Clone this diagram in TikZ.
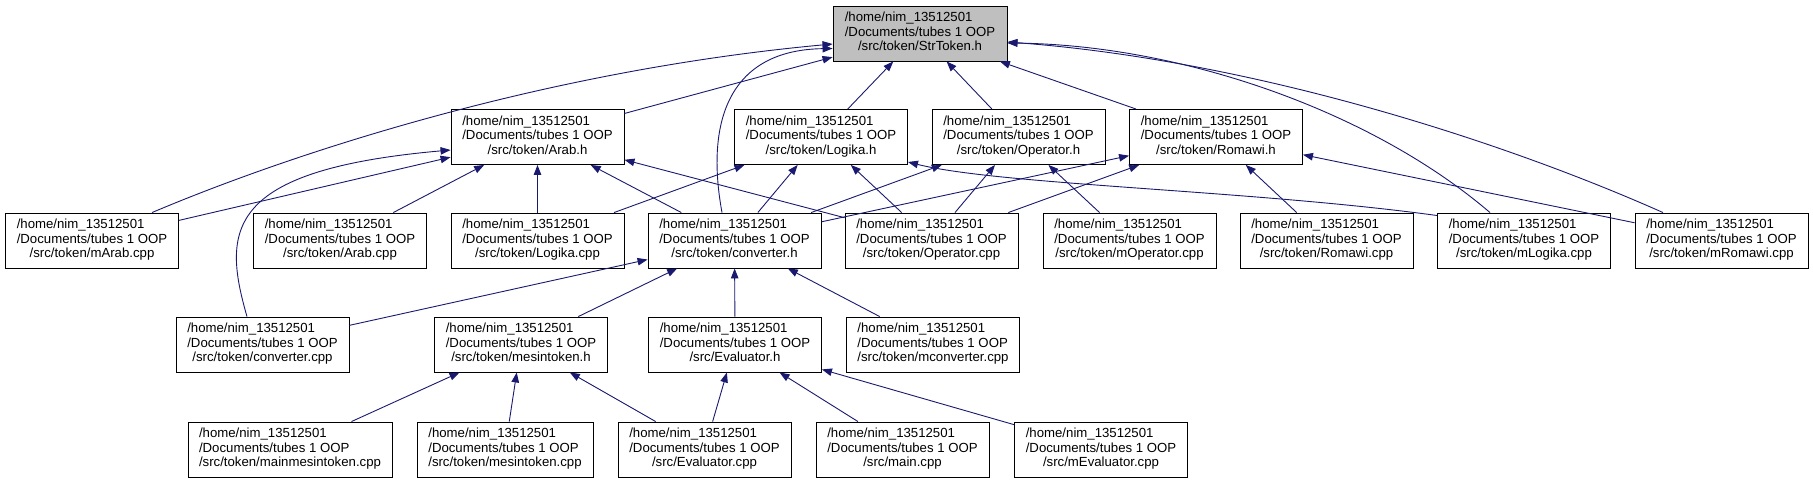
\documentclass[tikz,border=0pt]{standalone}
\usepackage{fontspec}
\setmainfont{Liberation Sans}
\usetikzlibrary{arrows.meta,calc}
\definecolor{edgeblue}{RGB}{25,25,112}
\definecolor{rootgray}{RGB}{191,191,191}
\newcommand{\flbl}[1]{\begin{tabular}{@{}l@{}}/home/nim\_13512501\\/Documents/tubes 1 OOP\\\multicolumn{1}{@{}c@{}}{#1}\end{tabular}}
\begin{document}
\begin{tikzpicture}[x=1pt,y=-1pt,
  filebox/.style={draw=black, line width=0.9pt, fill=white, minimum width=173pt, minimum height=55pt, inner sep=0pt, font=\fontsize{13.2}{14.5}\selectfont},
  rootbox/.style={filebox, fill=rootgray},
  dep/.style={draw=edgeblue, line width=0.9pt, -{Triangle[length=10pt,width=7.5pt]}}]
\path[use as bounding box] (0,0) rectangle (1813,483);

% row 0
\node[rootbox, minimum width=174pt] (strtoken) at (920,33.5) {\flbl{/src/token/StrToken.h}};
% row 1
\node[filebox] (arabh) at (537.5,137) {\flbl{/src/token/Arab.h}};
\node[filebox] (logikah) at (821,137) {\flbl{/src/token/Logika.h}};
\node[filebox] (operatorh) at (1018.5,137) {\flbl{/src/token/Operator.h}};
\node[filebox] (romawih) at (1216,137) {\flbl{/src/token/Romawi.h}};
% row 2
\node[filebox] (marab) at (92,240.5) {\flbl{/src/token/mArab.cpp}};
\node[filebox] (arabcpp) at (340,240.5) {\flbl{/src/token/Arab.cpp}};
\node[filebox] (logikacpp) at (537.5,240.5) {\flbl{/src/token/Logika.cpp}};
\node[filebox] (converterh) at (734.5,240.5) {\flbl{/src/token/converter.h}};
\node[filebox] (operatorcpp) at (931.5,240.5) {\flbl{/src/token/Operator.cpp}};
\node[filebox] (moperator) at (1129.5,240.5) {\flbl{/src/token/mOperator.cpp}};
\node[filebox] (romawicpp) at (1326.5,240.5) {\flbl{/src/token/Romawi.cpp}};
\node[filebox] (mlogika) at (1524,240.5) {\flbl{/src/token/mLogika.cpp}};
\node[filebox] (mromawi) at (1721.5,240.5) {\flbl{/src/token/mRomawi.cpp}};
% row 3
\node[filebox] (convertercpp) at (262.5,344.5) {\flbl{/src/token/converter.cpp}};
\node[filebox] (mesintokenh) at (521,344.5) {\flbl{/src/token/mesintoken.h}};
\node[filebox] (evaluatorh) at (735,344.5) {\flbl{/src/Evaluator.h}};
\node[filebox] (mconverter) at (933,344.5) {\flbl{/src/token/mconverter.cpp}};
% row 4
\node[filebox, minimum width=204pt] (mainmesintoken) at (290,449.5) {\flbl{/src/token/mainmesintoken.cpp}};
\node[filebox, minimum width=176pt] (mesintokencpp) at (505,449.5) {\flbl{/src/token/mesintoken.cpp}};
\node[filebox] (evaluatorcpp) at (704.5,449.5) {\flbl{/src/Evaluator.cpp}};
\node[filebox] (maincpp) at (902.5,449.5) {\flbl{/src/main.cpp}};
\node[filebox] (mevaluator) at (1101,449.5) {\flbl{/src/mEvaluator.cpp}};

% edges to StrToken.h
\draw[dep] (arabh) -- (strtoken);
\draw[dep] ($(marab.north)+(60,0)$) .. controls (300,150) and (550,70) .. ($(strtoken.west)+(0,10.5)$);
\draw[dep] ($(converterh.north)+(-12.5,0)$) .. controls (705,120) and (730,50) .. ($(strtoken.west)+(0,15)$);
\draw[dep] (logikah) -- (strtoken);
\draw[dep] (operatorh) -- (strtoken);
\draw[dep] (romawih) -- (strtoken);
\draw[dep] ($(mlogika.north)+(-34,0)$) .. controls (1370,110) and (1180,45) .. ($(strtoken.east)+(0,9.5)$);
\draw[dep] ($(mromawi.north)+(-58.5,0)$) .. controls (1500,140) and (1250,60) .. ($(strtoken.east)+(0,8.5)$);

% edges to Arab.h
\draw[dep] (marab) -- (arabh);
\draw[dep] ($(convertercpp.north)+(-15.5,0)$) .. controls (222,230) and (225,170) .. ($(arabh.west)+(0,13)$);
\draw[dep] (arabcpp) -- (arabh);
\draw[dep] (logikacpp) -- (arabh);
\draw[dep] (converterh) -- (arabh);
\draw[dep] (operatorcpp) -- (arabh);

% edges to Logika.h
\draw[dep] (logikacpp) -- (logikah);
\draw[dep] (converterh) -- (logikah);
\draw[dep] (operatorcpp) -- (logikah);
\draw[dep] ($(mlogika.west)+(0,-25)$) .. controls (1250,190) and (1000,185) .. ($(logikah.east)+(0,25)$);

% edges to Operator.h
\draw[dep] (converterh) -- (operatorh);
\draw[dep] (operatorcpp) -- (operatorh);
\draw[dep] (moperator) -- (operatorh);

% edges to Romawi.h
\draw[dep] (converterh) -- (romawih);
\draw[dep] (operatorcpp) -- (romawih);
\draw[dep] (romawicpp) -- (romawih);
\draw[dep] (mromawi) -- (romawih);

% edges to converter.h
\draw[dep] (convertercpp) -- (converterh);
\draw[dep] (mesintokenh) -- (converterh);
\draw[dep] (evaluatorh) -- (converterh);
\draw[dep] (mconverter) -- (converterh);

% edges to mesintoken.h
\draw[dep] (mainmesintoken) -- (mesintokenh);
\draw[dep] (mesintokencpp) -- (mesintokenh);
\draw[dep] (evaluatorcpp) -- (mesintokenh);

% edges to Evaluator.h
\draw[dep] (evaluatorcpp) -- (evaluatorh);
\draw[dep] (maincpp) -- (evaluatorh);
\draw[dep] (mevaluator) -- (evaluatorh);
\end{tikzpicture}
\end{document}
